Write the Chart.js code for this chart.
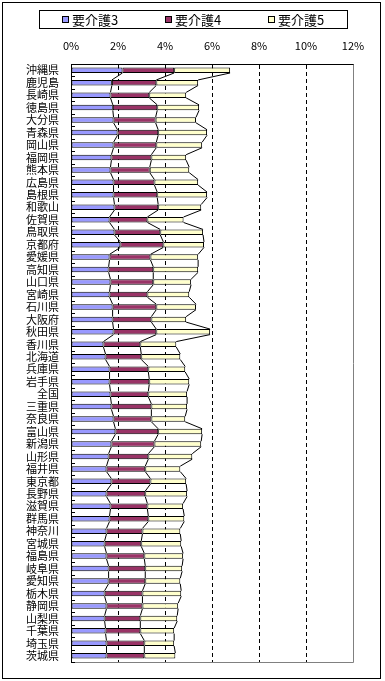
<!DOCTYPE html>
<html>
<head>
<meta charset="utf-8">
<script src="https://cdn.jsdelivr.net/npm/chart.js@4.4.1/dist/chart.umd.min.js"></script>
<style>
  html, body { margin: 0; padding: 0; background: #fff; }
  #wrap { width: 385px; height: 681px; position: relative; }
</style>
</head>
<body>
<div id="wrap"><canvas id="care"></canvas></div>
<script>
// prefectures, in the order shown (top to bottom)
const prefs = ["沖縄県","鹿児島","長崎県","徳島県","大分県","青森県","岡山県","福岡県","熊本県","広島県",
  "島根県","和歌山","佐賀県","鳥取県","京都府","愛媛県","高知県","山口県","宮崎県","石川県",
  "大阪府","秋田県","香川県","北海道","兵庫県","岩手県","全国","三重県","奈良県","富山県",
  "新潟県","山形県","福井県","東京都","長野県","滋賀県","群馬県","神奈川","宮城県","福島県",
  "岐阜県","愛知県","栃木県","静岡県","山梨県","千葉県","埼玉県","茨城県"];

// share of population (%) per care level
const care3 = [2.19,1.74,1.68,1.78,1.81,1.98,1.81,1.72,1.68,1.81,
  1.81,1.85,1.64,1.85,2.10,1.64,1.60,1.68,1.64,1.77,
  1.77,1.81,1.38,1.47,1.64,1.64,1.68,1.72,1.81,1.89,
  1.72,1.60,1.51,1.72,1.51,1.68,1.64,1.51,1.43,1.51,
  1.60,1.60,1.43,1.51,1.43,1.47,1.51,1.51];
const care4 = [2.20,1.89,1.65,1.89,1.79,1.73,1.82,1.70,1.67,1.74,
  1.86,1.86,1.61,1.95,1.83,1.74,1.90,1.82,1.61,1.86,
  1.65,1.82,1.57,1.52,1.65,1.69,1.61,1.70,1.61,1.82,
  1.83,1.69,1.65,1.66,1.65,1.57,1.65,1.53,1.56,1.61,
  1.56,1.56,1.61,1.53,1.52,1.48,1.61,1.61];
const care5 = [2.38,1.78,1.57,1.78,1.72,2.08,1.95,1.48,1.68,1.86,
  2.12,1.83,1.54,1.82,1.73,2.03,1.91,1.61,1.78,1.69,
  1.48,2.29,1.53,1.66,1.57,1.70,1.65,1.52,1.44,1.87,
  1.99,1.87,1.49,1.52,1.78,1.52,1.53,1.61,1.70,1.65,
  1.57,1.49,1.65,1.52,1.57,1.44,1.27,1.32];

const seriesNames = ["要介護3", "要介護4", "要介護5"];
const colors = ["#9999FF", "#993366", "#FFFFCC"];
const xTicks = [0, 2, 4, 6, 8, 10, 12];

const jpFont = '"Noto Sans CJK JP", "Noto Sans", sans-serif';

// outer frame, plot border, inner ticks on the category axis, series lines, legend
const excelBits = {
  id: 'excelBits',
  beforeDatasetsDraw(chart) {
    const { ctx, chartArea: a } = chart;
    ctx.save();
    ctx.strokeStyle = '#808080';
    ctx.lineWidth = 1;
    ctx.beginPath();
    ctx.moveTo(Math.round(a.left) + 0.5, Math.round(a.bottom) + 0.5);
    ctx.lineTo(Math.round(a.right) + 0.5, Math.round(a.bottom) + 0.5);
    ctx.lineTo(Math.round(a.right) + 0.5, Math.round(a.top) + 0.5);
    ctx.stroke();
    ctx.restore();
  },
  afterDatasetsDraw(chart) {
    const { ctx, chartArea: a } = chart;
    const y = chart.scales.y;
    ctx.save();
    ctx.strokeStyle = '#000';
    ctx.lineWidth = 1;

    // series lines between bar ends
    chart.data.datasets.forEach((ds, di) => {
      const bars = chart.getDatasetMeta(di).data;
      ctx.beginPath();
      for (let i = 0; i < bars.length - 1; i++) {
        const b0 = bars[i], b1 = bars[i + 1];
        ctx.moveTo(b0.x, b0.y + b0.height / 2);
        ctx.lineTo(b1.x, b1.y - b1.height / 2);
      }
      ctx.stroke();
    });

    // short inside ticks at category boundaries
    const step = y.getPixelForValue(1) - y.getPixelForValue(0);
    const x0 = Math.round(a.left);
    ctx.beginPath();
    for (let i = 0; i <= chart.data.labels.length; i++) {
      const py = Math.round(y.getPixelForValue(0) - step / 2 + i * step) + 0.5;
      ctx.moveTo(x0, py);
      ctx.lineTo(x0 + 4, py);
    }
    ctx.stroke();
    ctx.restore();
  },
  afterDraw(chart) {
    const { ctx } = chart;
    ctx.save();
    ctx.strokeStyle = '#000';
    ctx.lineWidth = 1;
    // outer frame
    ctx.strokeRect(2.5, 2.5, 378, 676);
    // legend box
    ctx.strokeRect(39.5, 10.5, 308, 18);
    const itemX = [62, 165, 268];
    ctx.font = '13px ' + jpFont;
    ctx.textBaseline = 'middle';
    ctx.fillStyle = '#000';
    chart.data.datasets.forEach((ds, i) => {
      ctx.fillStyle = ds.backgroundColor;
      ctx.fillRect(itemX[i] + 0.5, 16.5, 6, 6);
      ctx.strokeRect(itemX[i] + 0.5, 16.5, 6, 6);
      ctx.fillStyle = '#000';
      ctx.fillText(ds.label, itemX[i] + 10, 20);
    });
    ctx.restore();
  }
};

new Chart(document.getElementById('care'), {
  type: 'bar',
  data: {
    labels: prefs,
    datasets: [care3, care4, care5].map((vals, i) => ({
      label: seriesNames[i],
      data: vals,
      backgroundColor: colors[i],
      borderColor: '#000',
      borderWidth: 1,
      borderSkipped: false,
      barPercentage: 0.44,
      categoryPercentage: 1
    }))
  },
  options: {
    indexAxis: 'y',
    responsive: true,
    maintainAspectRatio: false,
    animation: false,
    layout: { padding: { left: 0, right: 32, top: 0, bottom: 19 } },
    plugins: {
      legend: { display: false },
      tooltip: { enabled: false }
    },
    scales: {
      x: {
        position: 'top',
        stacked: true,
        min: 0,
        max: 12,
        afterBuildTicks: (s) => { s.ticks = xTicks.map(v => ({ value: v })); },
        afterFit: (s) => { s.height = 64; },
        ticks: {
          padding: 12,
          color: '#000',
          font: { family: jpFont, size: 11 },
          callback: (v) => v + '%'
        },
        grid: {
          drawTicks: false,
          lineWidth: 1,
          color: (c) => (c.tick && (c.tick.value === 0 || c.tick.value === 12)) ? 'rgba(0,0,0,0)' : '#000'
        },
        border: { display: true, color: '#000', width: 1, dash: [4, 3] }
      },
      y: {
        stacked: true,
        afterFit: (s) => { s.width = 71; },
        ticks: {
          padding: 12,
          color: '#000',
          autoSkip: false,
          font: { family: jpFont, size: 11 }
        },
        grid: { display: false, drawTicks: false },
        border: { display: true, color: '#000', width: 1 }
      }
    }
  },
  plugins: [excelBits]
});
</script>
</body>
</html>
